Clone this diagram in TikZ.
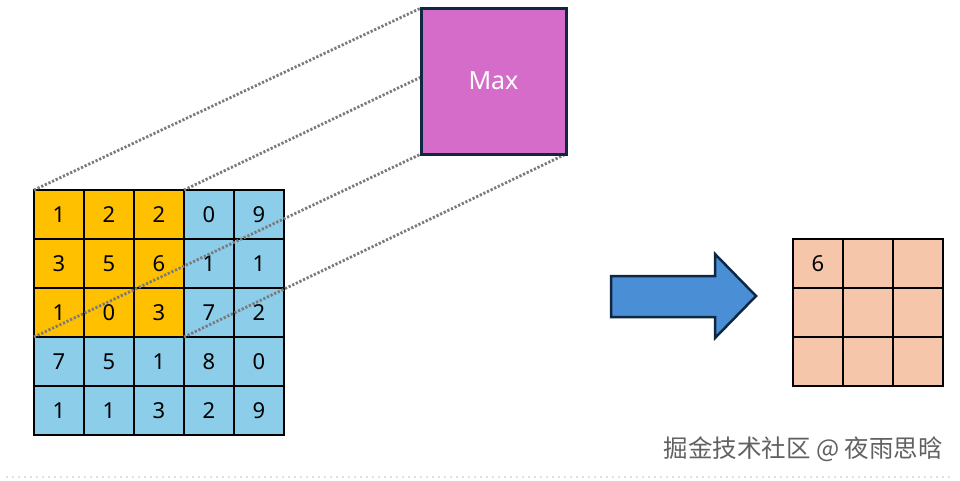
\documentclass[tikz,border=0pt]{standalone}
\usepackage{fontspec}
\setmainfont{Noto Sans}
\newfontfamily\cjk{Noto Sans CJK SC}
\pgfdeclarelayer{fg}
\pgfsetlayers{main,fg}
\definecolor{goldc}{HTML}{FFC000}
\definecolor{skyc}{HTML}{8CCDEA}
\definecolor{orchidc}{HTML}{D66CC9}
\definecolor{navyc}{HTML}{0E2841}
\definecolor{arrowc}{HTML}{4A8FD6}
\definecolor{peachc}{HTML}{F6C6AB}
\definecolor{dotc}{HTML}{7A7A7A}
\begin{document}
\begin{tikzpicture}[x=1pt,y=-1pt,
  cell/.style={draw=black, line width=1.5pt, minimum width=50pt, minimum height=49pt,
    inner sep=0pt, outer sep=0pt, anchor=north west, font=\fontsize{22}{22}\selectfont},
  dotline/.style={draw=dotc, line width=2.8pt, dash pattern=on 2.2pt off 1.8pt},
  maxbox/.style={draw=navyc, line width=3pt, fill=orchidc, minimum width=145pt,
    minimum height=146pt, inner sep=0pt, outer sep=0pt, text=white, font=\fontsize{25}{25}\selectfont},
  bigarrow/.style={draw=navyc, line width=2.5pt, fill=arrowc, line join=miter},
  wmark/.style={text=black!62, font=\cjk\fontsize{24.5}{24.5}\selectfont, inner sep=0pt}
]
\useasboundingbox (0,0) rectangle (960,480);

% input grid
\foreach [count=\i from 0] \v in {1,2,2,0,9,3,5,6,1,1,1,0,3,7,2,7,5,1,8,0,1,1,3,2,9} {
  \pgfmathtruncatemacro\r{int(\i/5)}
  \pgfmathtruncatemacro\c{mod(\i,5)}
  \pgfmathtruncatemacro\isy{and(\r<3,\c<3)}
  \ifnum\isy=1 \def\fc{goldc}\else\def\fc{skyc}\fi
  \node[cell, fill=\fc] (c\r\c) at ({34+50*\c},{190+49*\r}) {\v};
}

% Max box on top layer
\begin{pgfonlayer}{fg}
  \node[maxbox] (max) at (493.5,81) {Max};
\end{pgfonlayer}

% dotted projection lines
\draw[dotline] (c00.north west) -- (max.north west);
\draw[dotline] (c02.north east) -- (max.north east);
\draw[dotline] (c20.south west) -- (max.south west);
\draw[dotline] (c22.south east) -- (max.south east);

% big arrow
\draw[bigarrow] (611,276) -- (715,276) -- (715,254) -- (756,296) -- (715,338)
  -- (715,317) -- (611,317) -- cycle;

% output grid
\foreach \r in {0,1,2} {
  \foreach \c in {0,1,2} {
    \node[cell, fill=peachc] (o\r\c) at ({793+50*\c},{239+49*\r}) {};
  }
}
\node[font=\fontsize{22}{22}\selectfont] (six) at (o00.center) {6};

% watermark
\node[wmark, anchor=east] (wm) at (943,449) {掘金技术社区 @ 夜雨思晗};
\draw[draw=black!12, line width=1.2pt, dash pattern=on 1.5pt off 4.5pt] (6,477) -- (954,477);
\end{tikzpicture}
\end{document}
